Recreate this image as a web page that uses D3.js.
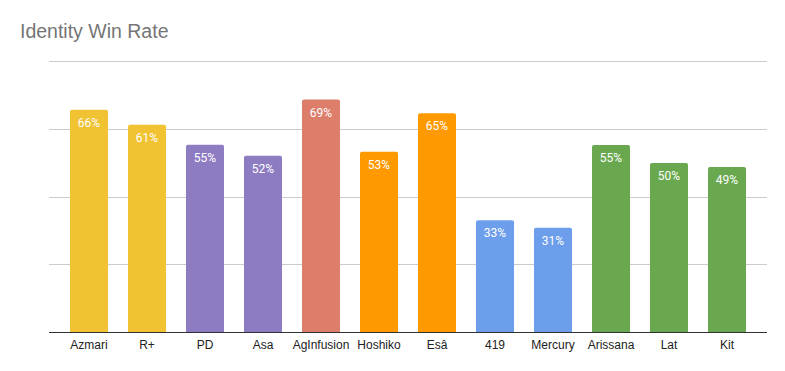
<!DOCTYPE html>
<head>
	<meta charset="utf-8">
	<script src="https://d3js.org/d3.v7.min.js"></script>
	<style>
	    body { margin: 0; background: white; }
	    .title { font-family: "Liberation Sans", Arial, sans-serif; font-size: 19.5px; fill: #757575; }
	    .xlab { font-family: "Liberation Sans", Arial, sans-serif; font-size: 12px; fill: #222; }
	    .val { font-family: Roboto, sans-serif; font-size: 12px; fill: white; }
	</style>
</head>
<body>
    <script>
        // chart data
        var identities = ["Azmari", "R+", "PD", "Asa", "AgInfusion", "Hoshiko", "Esâ", "419", "Mercury", "Arissana", "Lat", "Kit"];
        var winRates = [0.656, 0.612, 0.553, 0.52, 0.686, 0.532, 0.646, 0.33, 0.308, 0.552, 0.499, 0.487];
        var barColors = ["#f1c232", "#f1c232", "#8e7cc3", "#8e7cc3", "#dd7e6b", "#ff9900", "#ff9900", "#6d9eeb", "#6d9eeb", "#6aa84f", "#6aa84f", "#6aa84f"];
        var gridTicks = [0, 0.2, 0.4, 0.6, 0.8];

        var w = 785, h = 371;
        var plotLeft = 49, plotRight = 767, plotTop = 61, plotBottom = 332;

        var svg = d3.select("body").append("svg")
            .attr("width", w)
            .attr("height", h);

        svg.append("text")
            .attr("class", "title")
            .attr("x", 20)
            .attr("y", 38)
            .text("Identity Win Rate");

        var xScale = d3.scaleBand()
            .domain(identities)
            .range([plotLeft, plotRight])
            .paddingInner(0.345)
            .paddingOuter(0.362);

        var yScale = d3.scaleLinear()
            .domain([0, 0.8])
            .range([plotBottom, plotTop]);

        // gridlines
        svg.selectAll("line.grid")
            .data(gridTicks.slice(1))
            .enter()
            .append("line")
            .attr("class", "grid")
            .attr("x1", plotLeft)
            .attr("x2", plotRight)
            .attr("y1", function(d) { return Math.round(yScale(d)) + 0.5; })
            .attr("y2", function(d) { return Math.round(yScale(d)) + 0.5; })
            .attr("stroke", "#cccccc")
            .attr("stroke-width", 1);

        var data = identities.map(function(d, i) {
            return {name: d, value: winRates[i], color: barColors[i]};
        });

        var r = 2;
        svg.selectAll("path.bar")
            .data(data)
            .enter()
            .append("path")
            .attr("class", "bar")
            .attr("fill", function(d) { return d.color; })
            .attr("d", function(d) {
                var x0 = xScale(d.name), x1 = x0 + xScale.bandwidth();
                var y0 = yScale(d.value), y1 = yScale(0);
                return "M" + x0 + "," + y1 +
                    "V" + (y0 + r) +
                    "Q" + x0 + "," + y0 + " " + (x0 + r) + "," + y0 +
                    "H" + (x1 - r) +
                    "Q" + x1 + "," + y0 + " " + x1 + "," + (y0 + r) +
                    "V" + y1 + "Z";
            });

        svg.selectAll("text.val")
            .data(data)
            .enter()
            .append("text")
            .attr("class", "val")
            .attr("text-anchor", "middle")
            .attr("x", function(d) { return xScale(d.name) + xScale.bandwidth() / 2; })
            .attr("y", function(d) { return yScale(d.value) + 17; })
            .text(function(d) { return Math.round(d.value * 100) + "%"; });

        // baseline
        svg.append("line")
            .attr("x1", plotLeft)
            .attr("x2", plotRight)
            .attr("y1", plotBottom + 0.5)
            .attr("y2", plotBottom + 0.5)
            .attr("stroke", "#333333")
            .attr("stroke-width", 1);

        svg.selectAll("text.xlab")
            .data(identities)
            .enter()
            .append("text")
            .attr("class", "xlab")
            .attr("text-anchor", "middle")
            .attr("x", function(d) { return xScale(d) + xScale.bandwidth() / 2; })
            .attr("y", 348.5)
            .text(function(d) { return d; });
    </script>
</body>
